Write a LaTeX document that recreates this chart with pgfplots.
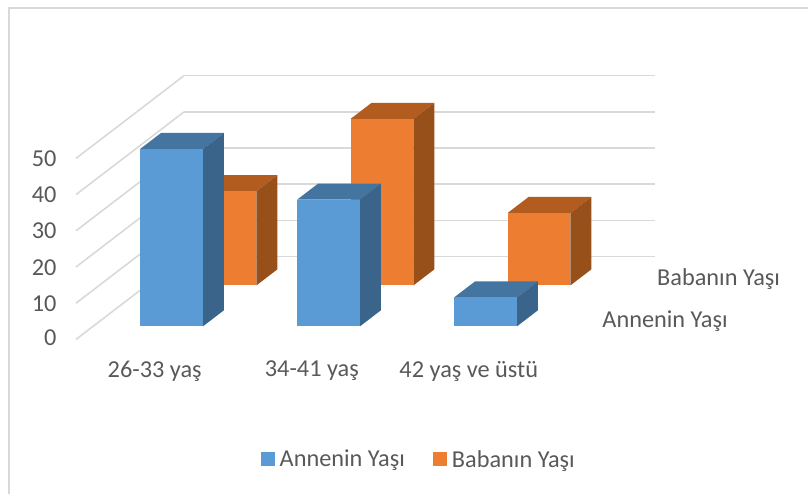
\documentclass[border=0pt]{standalone}
\usepackage{pgfplots}
\pgfplotsset{compat=1.18}
\usepackage{fontspec}
\setmainfont{Carlito}
\definecolor{txt}{HTML}{595959}
\definecolor{gridc}{HTML}{D9D9D9}
\definecolor{bluef}{HTML}{5B9BD5}
\definecolor{bluet}{HTML}{4475A0}
\definecolor{blues}{HTML}{3A6489}
\definecolor{orgf}{HTML}{ED7D31}
\definecolor{orgt}{HTML}{B35C1F}
\definecolor{orgs}{HTML}{97501A}
% x0 x1 y0 y1 value front side top
\newcommand{\barthree}[8]{%
 \addplot3[fill=#8,draw=none,forget plot] coordinates {(#1,#3,#5)(#2,#3,#5)(#2,#4,#5)(#1,#4,#5)};
 \addplot3[fill=#7,draw=none,forget plot] coordinates {(#2,#3,0)(#2,#4,0)(#2,#4,#5)(#2,#3,#5)};
 \addplot3[fill=#6,draw=none,forget plot] coordinates {(#1,#3,0)(#2,#3,0)(#2,#3,#5)(#1,#3,#5)};
}
\begin{document}
\begin{tikzpicture}[x=1pt,y=1pt]
\path[use as bounding box] (0,0) rectangle (808,494);
\begin{axis}[
 at={(154.5pt,154.6pt)},anchor=origin,
 x={(157pt,0pt)},y={(54pt,41.35pt)},z={(0pt,3.62pt)},
 xmin=-0.5,xmax=2.5,ymin=0,ymax=2,zmin=0,zmax=50,
 clip=false,
 axis line style={draw=none},
 tick style={draw=none},
 xtick={0,1,2},
 xticklabels={26-33 yaş,34-41 yaş,42 yaş ve üstü},
 ytick={0.5,1.5},
 yticklabels={Annenin Yaşı,Babanın Yaşı},
 ztick={0,10,20,30,40,50},
 z grid style={draw=gridc,line width=1.6pt},
 zmajorgrids=true,
 xmajorgrids=false,ymajorgrids=false,
 /pgf/number format/assume math mode=true,
 tick label style={font=\fontsize{24.3}{26}\selectfont,text=txt},
 xticklabel style={xshift=7pt,yshift=-18pt},
 yticklabel style={xshift=54.5pt,yshift=34pt},
 zticklabel style={xshift=-16pt,yshift=5pt},
 legend style={draw=none,fill=none,font=\fontsize{24.3}{26}\selectfont,text=txt,legend columns=2,
   at={(0.592,-0.455)},anchor=center,
   /tikz/every even column/.append style={column sep=26pt}},
 legend image code/.code={\fill[#1] (0pt,-7pt) rectangle (14pt,7pt);\path (17pt,0pt);},
]
\barthree{-0.2}{0.2}{1.306}{1.694}{26}{orgf}{orgs}{orgt}
\barthree{0.8}{1.2}{1.306}{1.694}{46}{orgf}{orgs}{orgt}
\barthree{1.8}{2.2}{1.306}{1.694}{20}{orgf}{orgs}{orgt}
\barthree{-0.2}{0.2}{0.314}{0.704}{49}{bluef}{blues}{bluet}
\barthree{0.8}{1.2}{0.314}{0.704}{35}{bluef}{blues}{bluet}
\barthree{1.8}{2.2}{0.314}{0.704}{8}{bluef}{blues}{bluet}
\addlegendimage{fill=bluef,draw=none}
\addlegendentry{Annenin Yaşı}
\addlegendimage{fill=orgf,draw=none}
\addlegendentry{Babanın Yaşı}
\end{axis}
\draw[gridc,line width=1.6pt] (9,0)--(9,486)--(808,486);
\end{tikzpicture}
\end{document}
